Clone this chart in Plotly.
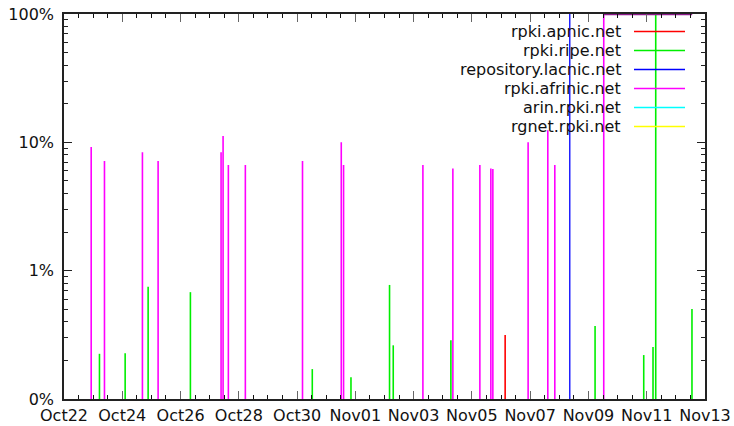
import plotly.graph_objects as go

# ---------------- data ----------------
series_names = ["rpki.apnic.net", "rpki.ripe.net", "repository.lacnic.net",
                "rpki.afrinic.net", "arin.rpki.net", "rgnet.rpki.net"]
series_colors = ["#ff0000", "#00ee00", "#0000ff", "#ff00ff", "#00ffff", "#ffff00"]

apnic_t = ["2023-11-06 03:23"]
apnic_v = [0.315]

ripe_t = ["2023-10-23 05:13", "2023-10-24 02:22", "2023-10-24 21:18", "2023-10-26 08:07",
          "2023-10-30 12:31", "2023-10-31 20:23", "2023-11-02 04:09", "2023-11-02 07:12",
          "2023-11-04 06:41", "2023-11-09 05:27", "2023-11-10 21:32", "2023-11-11 05:11",
          "2023-11-11 07:25", "2023-11-12 13:16"]
ripe_v = [0.225, 0.227, 0.75, 0.68, 0.171, 0.148, 0.774, 0.262, 0.287, 0.371,
          0.22, 0.254, 100, 0.503]

lacnic_t = ["2023-11-08 08:37"]
lacnic_v = [100]

afrinic_t = ["2023-10-22 22:24", "2023-10-23 09:20", "2023-10-24 16:36", "2023-10-25 05:31",
             "2023-10-27 09:23", "2023-10-27 11:02", "2023-10-27 15:23", "2023-10-28 05:23",
             "2023-10-30 04:28", "2023-10-31 12:23", "2023-10-31 14:17", "2023-11-03 07:38",
             "2023-11-04 08:19", "2023-11-05 06:33", "2023-11-05 15:36", "2023-11-05 17:15",
             "2023-11-06 22:18", "2023-11-07 14:31", "2023-11-07 20:17", "2023-11-09 12:36"]
afrinic_v = [9.2, 7.16, 8.37, 7.16, 8.37, 11.2, 6.67, 6.67, 7.16, 10.0, 6.67, 6.67,
             6.24, 6.67, 6.26, 6.2, 10.0, 12.4, 6.67, 100]
# afrinic stretch at 100% along the top
afrinic_top_t = ["2023-11-09 12:36", "2023-11-12 13:27"]
afrinic_top_v = [100, 100]

arin_t, arin_v = [], []
rgnet_t, rgnet_v = [], []

y_tickvals = [0.1, 1, 10, 100]
y_ticktext = ["0%", "1%", "10%", "100%"]
x_range = ["2023-10-22", "2023-11-13"]

# ---------------- figure ----------------
FONT = "DejaVu Sans"
YMIN_LOG, YMAX_LOG = -1, 2
BASE = 10 ** YMIN_LOG / 10  # below axis bottom, clipped


def impulses(ts, vs):
    xs, ys = [], []
    for t, v in zip(ts, vs):
        xs += [t, t, None]
        ys += [BASE, v, None]
    return xs, ys


all_data = [(apnic_t, apnic_v), (ripe_t, ripe_v), (lacnic_t, lacnic_v),
            (afrinic_t, afrinic_v), (arin_t, arin_v), (rgnet_t, rgnet_v)]

fig = go.Figure()
widths = [1.6, 1.6, 1.3, 1.6, 1.6, 1.6]
for name, color, (ts, vs), w in zip(series_names, series_colors, all_data, widths):
    xs, ys = impulses(ts, vs)
    fig.add_trace(go.Scatter(x=xs, y=ys, mode="lines", name=name,
                             line=dict(color=color, width=w), showlegend=False,
                             hoverinfo="skip"))

fig.add_trace(go.Scatter(x=afrinic_top_t, y=afrinic_top_v, mode="lines",
                         line=dict(color="#8a1a8a", width=2.5), showlegend=False,
                         hoverinfo="skip"))

# manual gnuplot-style legend (text right-aligned, sample line on the right)
L, R, T, B = 64, 29, 14, 27
W, H = 734 - L - R, 426 - T - B
row_y = [31.5, 50.5, 69.5, 88.5, 107.5, 126.5]
text_right = 623
line_x0, line_x1 = 634, 685
for name, color, py in zip(series_names, series_colors, row_y):
    yp = (426 - B - py) / H
    fig.add_annotation(x=(text_right - L) / W, y=yp, xref="paper", yref="paper",
                       text=name, showarrow=False, xanchor="right", yanchor="middle",
                       font=dict(family=FONT, size=16, color="#111"))
    fig.add_shape(type="line", xref="paper", yref="paper",
                  x0=(line_x0 - L) / W, x1=(line_x1 - L) / W, y0=yp, y1=yp,
                  line=dict(color=color, width=1.6))

minor_y = [k * 10 ** e for e in range(YMIN_LOG, YMAX_LOG) for k in range(2, 10)]

fig.update_layout(
    width=734, height=426,
    margin=dict(l=L, r=R, t=T, b=B, pad=0),
    paper_bgcolor="white", plot_bgcolor="white",
    font=dict(family=FONT, size=16, color="#111"),
    showlegend=False,
    xaxis=dict(type="date", range=x_range, dtick=2 * 86400000, tick0="2023-10-22",
               tickformat="%b%d", ticks="inside", ticklen=8, tickcolor="#666",
               tickwidth=1.2, showline=True, linecolor="#222", linewidth=1.5,
               mirror="allticks", showgrid=False, zeroline=False, automargin=False,
               ticklabelstandoff=1,
               minor=dict(dtick=12 * 3600000, tick0="2023-10-22", ticks="inside",
                          ticklen=4, tickcolor="#111", tickwidth=1, showgrid=False),
               tickfont=dict(family=FONT, size=16, color="#111")),
    yaxis=dict(type="log", range=[YMIN_LOG, YMAX_LOG], tickmode="array",
               tickvals=y_tickvals, ticktext=y_ticktext, ticks="inside", ticklen=8,
               tickcolor="#222", tickwidth=1.2, showline=True, linecolor="#222",
               linewidth=1.5, mirror="allticks", showgrid=False, zeroline=False,
               automargin=False, ticklabelstandoff=5,
               minor=dict(tickmode="array", tickvals=minor_y, ticks="inside",
                          ticklen=4, tickcolor="#222", tickwidth=1, showgrid=False),
               tickfont=dict(family=FONT, size=16, color="#111")),
)

fig.write_html("out.html")
